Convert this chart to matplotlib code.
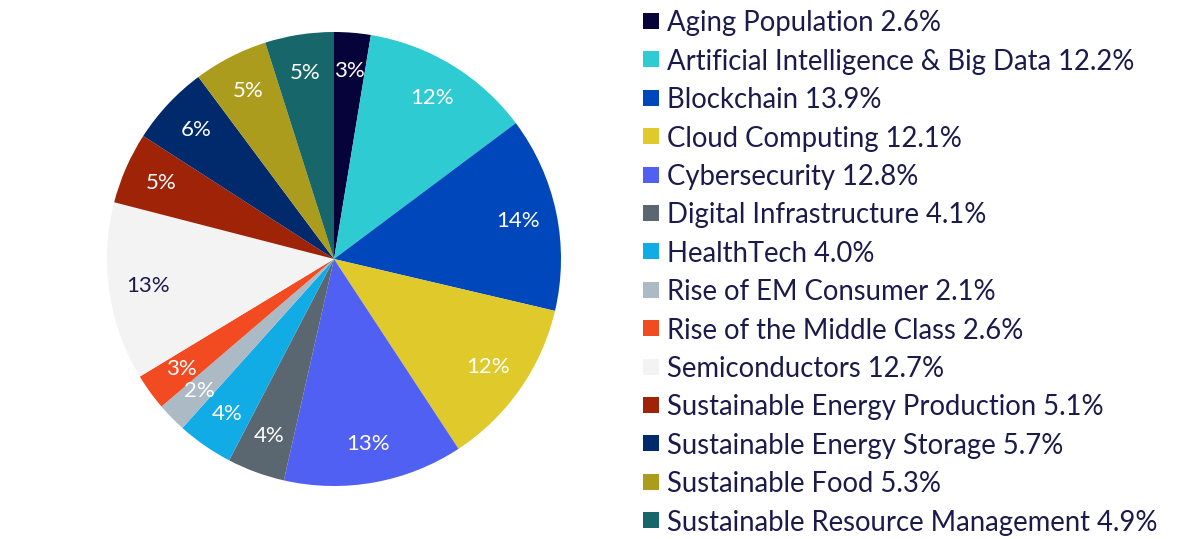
import matplotlib.pyplot as plt
from matplotlib.patches import Rectangle

plt.rcParams['font.family'] = ['Lato', 'DejaVu Sans']

themes = ['Aging Population', 'Artificial Intelligence & Big Data', 'Blockchain',
          'Cloud Computing', 'Cybersecurity', 'Digital Infrastructure', 'HealthTech',
          'Rise of EM Consumer', 'Rise of the Middle Class', 'Semiconductors',
          'Sustainable Energy Production', 'Sustainable Energy Storage',
          'Sustainable Food', 'Sustainable Resource Management']
weights = [2.6, 12.2, 13.9, 12.1, 12.8, 4.1, 4.0, 2.1, 2.6, 12.7, 5.1, 5.7, 5.3, 4.9]
colors = ['#05033A', '#2ECBD2', '#0047BB', '#DFC92B', '#5060F2', '#5A6670', '#11ABE5',
          '#ABBAC5', '#F34B21', '#F3F3F3', '#9E2307', '#002A6C', '#AC9C1E', '#17676A']
text_dark = '#1B1B4B'

W, H = 1200, 539
fig = plt.figure(figsize=(W / 100, H / 100), dpi=100)

# pie: centre (334, 259) px from top, radius 227 px
cx, cy, r = 334, 259, 227
ax = fig.add_axes([(cx - r) / W, (H - cy - r) / H, 2 * r / W, 2 * r / H])
wedges, texts, autotexts = ax.pie(weights, colors=colors, startangle=90, counterclock=False,
                                  autopct='%1.0f%%', pctdistance=0.83,
                                  textprops={'fontsize': 16, 'color': 'white'})
for i, t in enumerate(autotexts):
    if themes[i] == 'Semiconductors':
        t.set_color(text_dark)
ax.set_xlim(-1, 1)
ax.set_ylim(-1, 1)
ax.axis('off')

# legend drawn by hand
y0, step = 21, 38.4
for i, (name, val, c) in enumerate(zip(themes, weights, colors)):
    y = H - (y0 + i * step)
    fig.patches.append(Rectangle((643 / W, (y - 8) / H), 16 / W, 16 / H,
                                 transform=fig.transFigure, facecolor=c, edgecolor='none'))
    fig.text(667 / W, y / H, f'{name} {val:.1f}%', fontsize=19.8, color=text_dark,
             va='center_baseline', ha='left')

fig.savefig('out.png', dpi=100, facecolor='white')
